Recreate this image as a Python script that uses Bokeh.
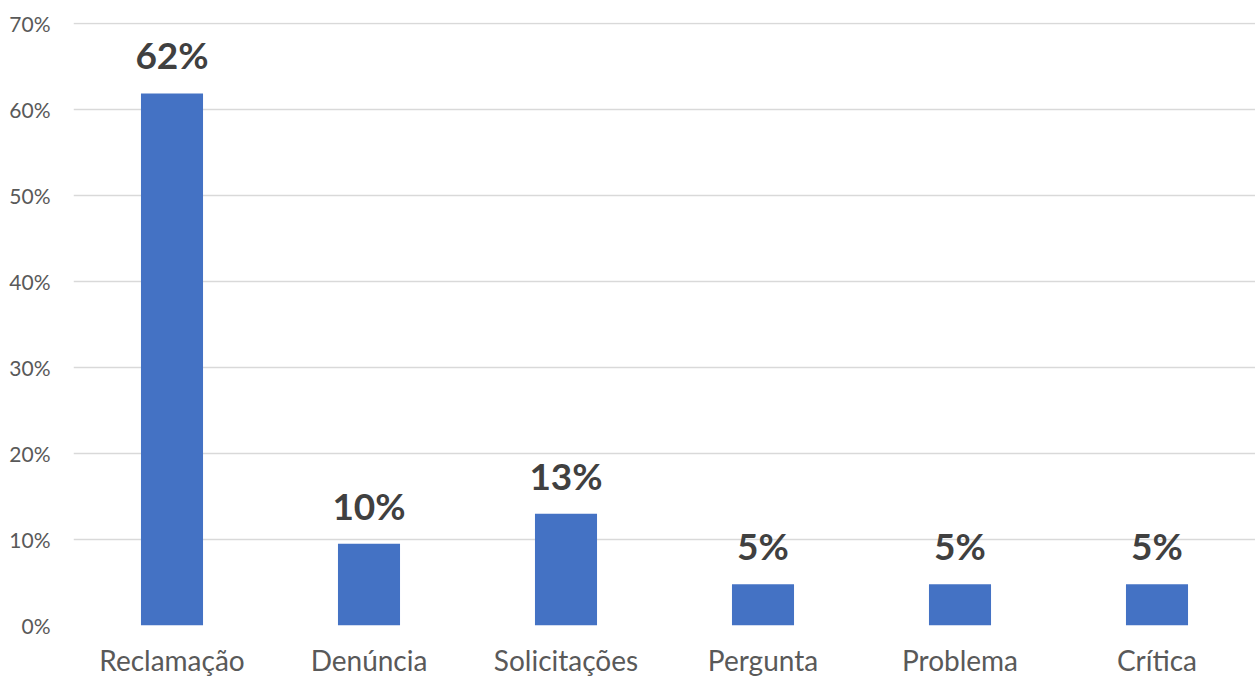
from bokeh.plotting import figure
from bokeh.models import ColumnDataSource, LabelSet, Range1d, NumeralTickFormatter, FixedTicker
from bokeh.core.properties import value
from bokeh.embed import file_html
from bokeh.resources import INLINE

categories = ["Reclamação", "Denúncia", "Solicitações", "Pergunta", "Problema", "Crítica"]
values = [0.619, 0.095, 0.13, 0.048, 0.048, 0.048]
labels = ["62%", "10%", "13%", "5%", "5%", "5%"]
y_ticks = [0, 0.1, 0.2, 0.3, 0.4, 0.5, 0.6, 0.7]

FONT = "Lato"

src = ColumnDataSource(dict(cat=categories, val=values, lab=labels))

p = figure(x_range=categories, y_range=Range1d(0, 0.7015), width=1255, height=679,
           output_backend="svg", toolbar_location=None,
           min_border_left=73, min_border_right=0, min_border_top=22, min_border_bottom=45)
p.outline_line_color = None
p.background_fill_color = "white"

p.vbar(x="cat", top="val", width=0.315, source=src, color="#4472C4", line_color=None)

p.add_layout(LabelSet(x="cat", y="val", text="lab", source=src, text_align="center",
                      text_baseline="alphabetic", y_offset=24, text_font=value(FONT),
                      text_font_style="bold", text_font_size="37px", text_color="#404040"))

p.yaxis.ticker = FixedTicker(ticks=y_ticks)
p.yaxis.formatter = NumeralTickFormatter(format="0%")
p.yaxis.axis_line_color = None
p.yaxis.major_tick_line_color = None
p.yaxis.minor_tick_line_color = None
p.yaxis.major_label_text_font = FONT
p.yaxis.major_label_text_font_size = "21px"
p.yaxis.major_label_text_color = "#595959"
p.yaxis.major_label_standoff = 17

p.xaxis.axis_line_color = None
p.xaxis.major_tick_line_color = None
p.xaxis.major_label_text_font = FONT
p.xaxis.major_label_text_font_size = "28px"
p.xaxis.major_label_text_color = "#595959"
p.xaxis.major_label_standoff = 11

p.xgrid.grid_line_color = None
p.ygrid.grid_line_color = "#d9d9d9"
p.ygrid.grid_line_width = 1.5

open("out.html", "w").write(file_html(p, INLINE))
